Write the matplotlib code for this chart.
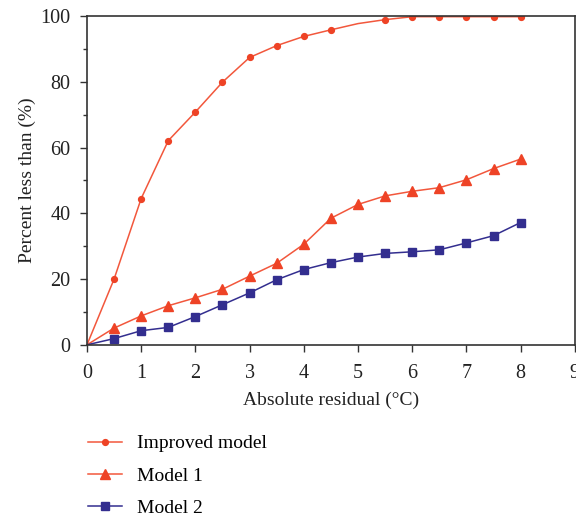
import numpy as np
import matplotlib
matplotlib.use('Agg')
import matplotlib.pyplot as plt
from matplotlib.ticker import MultipleLocator

plt.rcParams['font.family'] = ['Liberation Serif', 'DejaVu Serif']

# data
x = [0, 0.5, 1, 1.5, 2, 2.5, 3, 3.5, 4, 4.5, 5, 5.5, 6, 6.5, 7, 7.5, 8]
improved = [0, 20, 44.5, 62.1, 70.8, 79.9, 87.4, 91.0, 93.8, 95.8, 97.7, 98.9,
            99.8, 99.8, 99.8, 99.8, 99.8]
model1 = [0, 5.1, 8.8, 11.9, 14.3, 16.9, 20.9, 24.8, 30.6, 38.5, 42.7, 45.3,
          46.7, 47.8, 50.2, 53.6, 56.5]
model2 = [0, 1.9, 4.3, 5.3, 8.6, 12.2, 15.8, 19.8, 22.9, 25.0, 26.7, 27.8,
          28.3, 28.9, 31.0, 33.2, 37.2]
labels = ['Improved model', 'Model 1', 'Model 2']

red = '#EE4326'
red_line = '#F2573C'
navy = '#332E8F'

fig = plt.figure(figsize=(5.76, 5.17), dpi=100)
ax = fig.add_axes([0.151, 0.333, 0.847, 0.636])

# improved model has no marker at x=5
mk_improved = [i for i in range(1, len(x)) if x[i] != 5]
ax.plot(x, improved, color=red_line, lw=1.1, marker='o', ms=4.2,
        mfc=red, mec=red, markevery=mk_improved, label=labels[0])
ax.plot(x, model1, color=red_line, lw=1.1, marker='^', ms=7.5,
        mfc=red, mec=red, markevery=slice(1, None), label=labels[1])
ax.plot(x, model2, color=navy, lw=1.1, marker='s', ms=6.2,
        mfc=navy, mec=navy, markevery=slice(1, None), label=labels[2])

ax.set_xlim(0, 9)
ax.set_ylim(0, 100)
ax.set_xticks(range(0, 10))
ax.set_yticks(range(0, 101, 20))
ax.yaxis.set_minor_locator(MultipleLocator(10))
ax.tick_params(axis='both', which='major', direction='out', length=5,
               width=1, colors='#333333', labelsize=14.5, labelcolor='#222222')
ax.tick_params(axis='x', which='major', pad=9)
ax.tick_params(axis='y', which='major', pad=7)
ax.tick_params(axis='y', which='minor', direction='out', length=3,
               width=1, colors='#333333')
for s in ax.spines.values():
    s.set_color('#333333')
    s.set_linewidth(1.2)

ax.set_xlabel('Absolute residual (°C)', fontsize=14, color='#222222', labelpad=6)
ax.set_ylabel('Percent less than (%)', fontsize=14, color='#222222', labelpad=3)

fig.legend(loc='upper left', bbox_to_anchor=(0.14, 0.174), frameon=False,
           fontsize=14, handlelength=1.75, handletextpad=0.75, labelspacing=0.75,
           borderaxespad=0)

fig.savefig('out.png', dpi=100)
